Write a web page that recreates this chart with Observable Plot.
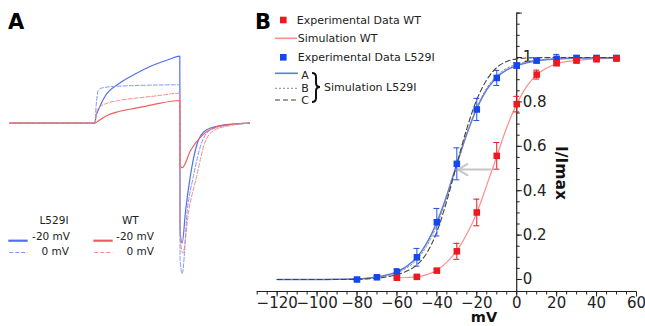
<!DOCTYPE html>
<html><head><meta charset="utf-8">
<script src="https://cdn.jsdelivr.net/npm/d3@7"></script>
<script src="https://cdn.jsdelivr.net/npm/@observablehq/plot@0.6"></script>
<style>
body{margin:0;background:#fff;}
#wrap{position:relative;width:645px;height:326px;font-family:"DejaVu Sans",sans-serif;}
#wrap > svg{position:absolute;top:0;}
</style></head><body><div id="wrap"></div>
<script>
// ---------- Panel A: current traces (time ms, current a.u.) ----------
const mut20T = [0, 50, 50.6, 52.4, 56.3, 64.1, 74.0, 83.8, 93.5, 100, 100.15, 101.4, 103.4, 106.1, 110.2, 115.1, 123.9, 141];
const mut20I = [0, 0, 0.12, 0.288, 0.554, 0.788, 0.988, 1.154, 1.274, 1.34, -2.15, -2.4, -1.75, -1.08, -0.412, -0.146, -0.046, 0];
const mut0T = [0, 50, 50.8, 52.0, 54.4, 64.1, 100, 100.15, 101.4, 104.4, 107.9, 112.6, 117.6, 126.9, 141];
const mut0I = [0, 0, 0.354, 0.654, 0.708, 0.74, 0.768, -2.7, -3.01, -1.746, -1.08, -0.412, -0.146, -0.046, 0];
const wt20T = [0, 50, 52.4, 56.3, 64.1, 74.0, 83.8, 100, 100.15, 101.4, 106.3, 112.2, 120, 129.8, 141];
const wt20I = [0, 0, 0.054, 0.14, 0.234, 0.3, 0.368, 0.454, -0.85, -0.892, -0.546, -0.28, -0.092, -0.026, 0];
const wt0T = [0, 50, 51.4, 53.4, 56.3, 64.1, 74.0, 87, 100, 100.2, 101.8, 105.3, 109.8, 114.5, 120, 129.8, 141];
const wt0I = [0, 0, 0.254, 0.34, 0.388, 0.454, 0.5, 0.55, 0.6, -2.3, -2.6, -1.746, -1.08, -0.412, -0.146, -0.046, 0];

// ---------- Panel B: activation curves ----------
const wtV = [-60, -50, -40, -30, -20, -10, 0, 10, 20, 30, 40, 50];
const wtI = [0.008, 0.012, 0.04, 0.127, 0.302, 0.557, 0.79, 0.923, 0.974, 0.986, 0.992, 0.995];
const wtErr = [0.004, 0.005, 0.008, 0.036, 0.06, 0.06, 0.035, 0.02, 0.01, 0.008, 0.006, 0.005];

const mutV = [-80, -70, -60, -50, -40, -30, -20, -10, 0, 10, 20, 30, 40, 50];
const mutI = [0.0, 0.01, 0.033, 0.10, 0.258, 0.521, 0.766, 0.908, 0.964, 0.986, 0.994, 0.998, 0.998, 0.998];
const mutErr = [0.004, 0.006, 0.016, 0.04, 0.062, 0.072, 0.05, 0.034, 0.012, 0.01, 0.02, 0.01, 0.008, 0.01];

const simWtV = [-60, -55, -50, -45, -40, -35, -30, -25, -20, -15, -10, -5, 0, 5, 10, 15, 20, 30, 40, 50];
const simWtI = [0.008, 0.009, 0.012, 0.022, 0.042, 0.078, 0.13, 0.205, 0.30, 0.425, 0.555, 0.685, 0.79, 0.87, 0.922, 0.953, 0.972, 0.987, 0.994, 0.997];

const simV = [-120, -110, -100, -90, -80, -75, -70, -65, -60, -55, -50, -45, -40, -35, -30, -25, -20, -15, -10, -5, 0, 5, 10, 20, 30, 40, 50];
const simA = [0, 0, 0, 0.001, 0.003, 0.006, 0.011, 0.02, 0.035, 0.06, 0.10, 0.165, 0.258, 0.38, 0.52, 0.655, 0.77, 0.855, 0.91, 0.944, 0.963, 0.976, 0.985, 0.993, 0.997, 0.998, 0.999];
const simB = [0, 0, 0, 0.001, 0.002, 0.005, 0.009, 0.017, 0.03, 0.053, 0.09, 0.152, 0.245, 0.372, 0.515, 0.657, 0.775, 0.862, 0.918, 0.951, 0.97, 0.981, 0.988, 0.995, 0.998, 0.999, 0.999];
const simC = [0, 0, 0, 0, 0.001, 0.003, 0.006, 0.012, 0.022, 0.038, 0.066, 0.12, 0.215, 0.355, 0.52, 0.68, 0.81, 0.9, 0.955, 0.982, 0.994, 0.998, 0.999, 1, 1, 1, 1];

const shiftArrow = [{x1: -13, x2: -29.5, y: 0.495}];

const xTicks = [-120, -100, -80, -60, -40, -20, 0, 20, 40, 60];
const xMinor = d3.range(-130, 61, 5);
const yTicks = [0, 0.2, 0.4, 0.6, 0.8, 1];
const yTickLabels = ["0", "0.2", "0.4", "0.6", "0.8", "1"];
const yMajor = [0, 0.2, 0.4, 0.6, 0.8, 1, 1.2];
const yMinor = d3.range(0, 1.2001, 0.05);
const xDomain = [-130, 60];
const yDomain = [-0.054, 1.2];

const FONT = "'DejaVu Sans', sans-serif";
const wrap = document.getElementById("wrap");

// ---------- Panel A ----------
const toRows = (T, I) => T.map((t, k) => ({t, i: I[k]}));
const traceStyles = [
  {T: mut20T, I: mut20I, stroke: "#5070ee", dash: null, w: 1.2},
  {T: mut0T, I: mut0I, stroke: "#7f99f4", dash: "4,2", w: 1},
  {T: wt20T, I: wt20I, stroke: "#f25c5c", dash: null, w: 1.2},
  {T: wt0T, I: wt0I, stroke: "#f58a8a", dash: "4,2", w: 1}
];
const plotA = Plot.plot({
  width: 250, height: 326,
  marginLeft: 9.3, marginRight: 1, marginTop: 2.7, marginBottom: 3.3,
  style: {background: "transparent", fontFamily: FONT},
  x: {domain: [0, 141], axis: null},
  y: {domain: [-4, 2.4], axis: null},
  marks: traceStyles.map(s => Plot.line(toRows(s.T, s.I), {
    x: "t", y: "i", stroke: s.stroke, strokeWidth: s.w, strokeDasharray: s.dash, curve: "monotone-x"
  }))
});
plotA.style.left = "0px";
wrap.appendChild(plotA);
{
  const g = d3.select(plotA).append("g").attr("font-family", FONT).attr("fill", "#222").attr("text-anchor", "start");
  g.append("text").attr("x", 8).attr("y", 29).attr("text-anchor", "start").attr("font-size", 21).attr("font-weight", "bold").attr("fill", "#000").text("A");
  const fs = 10.5;
  g.append("text").attr("x", 54).attr("y", 220).attr("dy", "0.35em").attr("text-anchor", "middle").attr("font-size", fs).text("L529I");
  g.append("text").attr("x", 70).attr("y", 236).attr("dy", "0.35em").attr("text-anchor", "end").attr("font-size", fs).text("-20 mV");
  g.append("text").attr("x", 69).attr("y", 251.7).attr("dy", "0.35em").attr("text-anchor", "end").attr("font-size", fs).text("0 mV");
  g.append("text").attr("x", 130.3).attr("y", 220).attr("dy", "0.35em").attr("text-anchor", "middle").attr("font-size", fs).text("WT");
  g.append("text").attr("x", 154).attr("y", 236).attr("dy", "0.35em").attr("text-anchor", "end").attr("font-size", fs).text("-20 mV");
  g.append("text").attr("x", 154).attr("y", 251.7).attr("dy", "0.35em").attr("text-anchor", "end").attr("font-size", fs).text("0 mV");
  const sw = (x1, x2, y, c, dash, w) => g.append("line").attr("x1", x1).attr("x2", x2).attr("y1", y).attr("y2", y)
    .attr("stroke", c).attr("stroke-width", w).attr("stroke-dasharray", dash);
  sw(8.3, 27.7, 240.7, "#5070ee", null, 2.2);
  sw(9.3, 27.7, 252.5, "#7f99f4", "4,2", 1.2);
  sw(93.3, 112.7, 240.7, "#f25c5c", null, 2.2);
  sw(94.3, 112.7, 252.5, "#f58a8a", "4,2", 1.2);
}

// ---------- Panel B ----------
const wtRows = wtV.map((v, k) => ({v, i: wtI[k], e: wtErr[k]}));
const mutRows = mutV.map((v, k) => ({v, i: mutI[k], e: mutErr[k]}));
const simWtRows = simWtV.map((v, k) => ({v, i: simWtI[k]}));
const simARows = simV.map((v, k) => ({v, i: simA[k]}));
const simBRows = simV.map((v, k) => ({v, i: simB[k]}));
const simCRows = simV.map((v, k) => ({v, i: simC[k]}));
const fmtX = d3.format("");
const PX = 1 / 222; // one pixel in y units

const errMarks = (rows, color) => [
  Plot.ruleX(rows, {x: "v", y1: d => d.i - d.e, y2: d => d.i + d.e, stroke: color, strokeWidth: 1}),
  Plot.ruleY(rows, {y: d => d.i + d.e, x1: d => d.v - 1.5, x2: d => d.v + 1.5, stroke: color, strokeWidth: 1}),
  Plot.ruleY(rows, {y: d => d.i - d.e, x1: d => d.v - 1.5, x2: d => d.v + 1.5, stroke: color, strokeWidth: 1})
];

const plotB = Plot.plot({
  width: 395, height: 326,
  marginLeft: 6.7, marginRight: 9, marginTop: 12.6, marginBottom: 35,
  style: {background: "transparent", fontFamily: FONT},
  x: {domain: xDomain, axis: null},
  y: {domain: yDomain, axis: null},
  marks: [
    // axes
    Plot.ruleY([yDomain[0]], {stroke: "#222", strokeWidth: 1.2}),
    Plot.link(xMinor, {x1: d => d, x2: d => d, y1: yDomain[0], y2: yDomain[0] - 3 * PX, stroke: "#222"}),
    Plot.link(xTicks, {x1: d => d, x2: d => d, y1: yDomain[0], y2: yDomain[0] - 5 * PX, stroke: "#222"}),
    Plot.text(xTicks, {x: d => d, y: yDomain[0], text: d => fmtX(d), dy: 12, fontSize: 15, fill: "#222"}),
    Plot.ruleX([0], {y1: yDomain[0], y2: yDomain[1], stroke: "#222", strokeWidth: 1.2}),
    Plot.link(yMinor, {x1: 0, x2: 1.5, y1: d => d, y2: d => d, stroke: "#222"}),
    Plot.link(yMajor, {x1: 0, x2: 2.6, y1: d => d, y2: d => d, stroke: "#222"}),
    Plot.text(yTicks, {x: 0, y: d => d, text: (d, k) => yTickLabels[k], dx: 6, textAnchor: "start", fontSize: 15, fill: "#222"}),
    // simulations
    Plot.line(simWtRows, {x: "v", y: "i", stroke: "#ff8c8c", strokeWidth: 1.2, curve: "monotone-x"}),
    Plot.line(simARows, {x: "v", y: "i", stroke: "#5a7be8", strokeWidth: 1.5, curve: "monotone-x"}),
    Plot.line(simBRows, {x: "v", y: "i", stroke: "#8a8a8a", strokeWidth: 1, strokeDasharray: "2,2", curve: "monotone-x"}),
    Plot.line(simCRows, {x: "v", y: "i", stroke: "#444", strokeWidth: 1.1, strokeDasharray: "5,3", curve: "monotone-x"}),
    Plot.arrow(shiftArrow, {x1: "x1", x2: "x2", y1: "y", y2: "y", stroke: "#c6c6c6", strokeWidth: 2, headLength: 9}),
    // experimental
    ...errMarks(mutRows, "#2152e6"),
    Plot.dot(mutRows, {x: "v", y: "i", symbol: "square", r: 3.7, fill: "#1448ee"}),
    ...errMarks(wtRows, "#e8141c"),
    Plot.dot(wtRows, {x: "v", y: "i", symbol: "square", r: 3.7, fill: "#ee1820"})
  ]
});
plotB.style.left = "250px";
wrap.appendChild(plotB);
{
  const g = d3.select(plotB).append("g").attr("font-family", FONT).attr("fill", "#222").attr("text-anchor", "start");
  g.append("text").attr("x", 5).attr("y", 28.5).attr("text-anchor", "start").attr("font-size", 21).attr("font-weight", "bold").attr("fill", "#000").text("B");
  g.append("text").attr("x", 234).attr("y", 321.5).attr("text-anchor", "middle").attr("font-size", 14.5).attr("font-weight", "bold").attr("fill", "#111").text("mV");
  g.append("text").attr("transform", "translate(311,173) rotate(90)").attr("text-anchor", "middle").attr("dy", "0.35em")
    .attr("font-size", 15.5).attr("font-weight", "bold").attr("fill", "#111").text("I/Imax");
  const fs = 11;
  const txt = (x, y, s, anchor) => g.append("text").attr("x", x).attr("y", y).attr("dy", "0.35em").attr("font-size", fs)
    .attr("text-anchor", anchor || "start").text(s);
  g.append("rect").attr("x", 30).attr("y", 16.7).attr("width", 6.6).attr("height", 6.6).attr("fill", "#ee1820");
  txt(46.7, 20, "Experimental Data WT");
  g.append("line").attr("x1", 25).attr("x2", 47).attr("y1", 38.3).attr("y2", 38.3).attr("stroke", "#ff8c8c").attr("stroke-width", 1.6);
  txt(47.7, 38, "Simulation WT");
  g.append("rect").attr("x", 30).attr("y", 54).attr("width", 6.6).attr("height", 6.6).attr("fill", "#1448ee");
  txt(47.7, 57.3, "Experimental Data L529I");
  g.append("line").attr("x1", 25).attr("x2", 48).attr("y1", 73.3).attr("y2", 73.3).attr("stroke", "#5a7be8").attr("stroke-width", 1.6);
  g.append("line").attr("x1", 25).attr("x2", 48).attr("y1", 88.3).attr("y2", 88.3).attr("stroke", "#8a8a8a").attr("stroke-width", 1).attr("stroke-dasharray", "2,2");
  g.append("line").attr("x1", 25).attr("x2", 48).attr("y1", 100).attr("y2", 100).attr("stroke", "#444").attr("stroke-width", 1.1).attr("stroke-dasharray", "5,3");
  txt(55, 75, "A", "middle");
  txt(55, 88.3, "B", "middle");
  txt(55, 100.5, "C", "middle");
  g.append("path").attr("d", "M62,73 Q66,73 66,77 L66,83 Q66,87 70,87 Q66,87 66,91 L66,98 Q66,102 62,102")
    .attr("fill", "none").attr("stroke", "#111").attr("stroke-width", 2);
  txt(74, 87.5, "Simulation L529I");
}
</script></body></html>
